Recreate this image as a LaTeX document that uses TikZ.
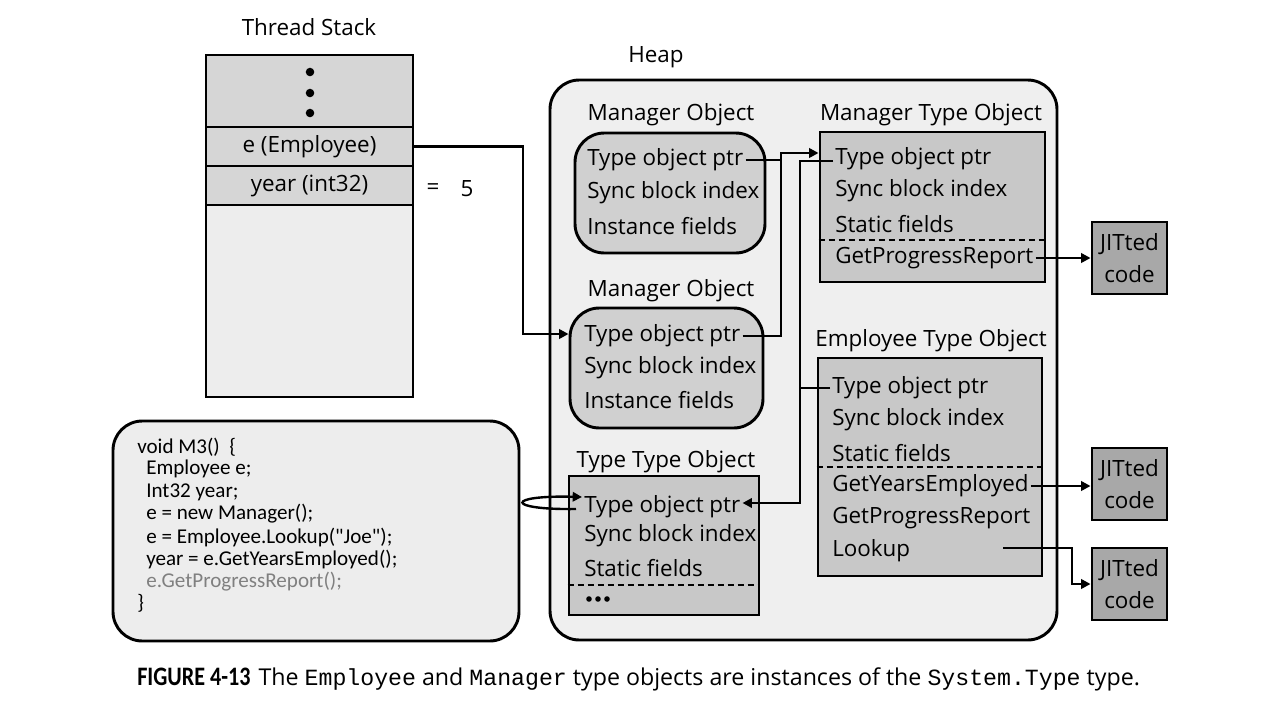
\documentclass[tikz,border=0pt]{standalone}
\usepackage{graphicx}
\usepackage{fontspec}
\setmainfont{Open Sans}
\newfontfamily\codefont{Carlito}
\newfontfamily\capfont{Carlito}
\newfontfamily\monofont{Liberation Mono}
\usetikzlibrary{arrows.meta}
\definecolor{stackgray}{HTML}{D6D6D6}
\definecolor{lightgray}{HTML}{EDEDED}
\definecolor{heapfill}{HTML}{EFEFEF}
\definecolor{objfill}{HTML}{D0D0D0}
\definecolor{typefill}{HTML}{C8C8C8}
\definecolor{jitfill}{HTML}{A8A8A8}
\definecolor{codegray}{HTML}{808080}
\tikzset{
  lw/.style={line width=2.2pt},
  boxshape/.style={draw, lw, inner sep=0pt},
  mainfont/.style={font=\fontsize{16.8}{19}\selectfont},
  fld/.style={anchor=west, inner sep=1.5pt, yshift=-1.5pt, mainfont},
  lbl/.style={inner sep=0pt, yshift=-1.5pt, mainfont},
  codeln/.style={anchor=west, inner sep=0pt, font=\codefont\fontsize{15.8}{18}\selectfont},
  arr/.style={lw, -{Triangle[length=7pt,width=7pt]}},
  conn/.style={lw},
  sepline/.style={lw, dash pattern=on 4.5pt off 3pt},
  jitbox/.style={boxshape, fill=jitfill, minimum width=56.25pt, minimum height=54pt, align=center, font=\fontsize{16.8}{24}\selectfont},
}
\begin{document}
\begin{tikzpicture}[x=0.75pt,y=-0.75pt]
\useasboundingbox (0,0) rectangle (1261,711);

% ---------- Thread stack ----------
\node[lbl] (tslbl) at (309,25) {Thread Stack};
\node[boxshape, fill=stackgray, minimum width=155.25pt, minimum height=54pt] (stop) at (309.5,91) {};
\node[boxshape, fill=stackgray, minimum width=155.25pt, minimum height=29.25pt, mainfont] (erow) at (309.5,146.5) {e (Employee)};
\node[boxshape, fill=stackgray, minimum width=155.25pt, minimum height=29.25pt, mainfont] (yrow) at (309.5,185.5) {year (int32)};
\node[boxshape, fill=lightgray, minimum width=155.25pt, minimum height=144pt] (slow) at (309.5,301) {};
\foreach \yy in {72,93,113} \fill (310,\yy) circle (3.2pt);
\node[lbl] (eq) at (433,187) {=};
\node[lbl] (five) at (467,187) {5};

% ---------- Heap ----------
\node[boxshape, fill=heapfill, rounded corners=22pt, minimum width=380.25pt, minimum height=420pt] (heap) at (803.5,360) {};
\node[lbl] (heaplbl) at (656,55) {Heap};

% Manager object 1
\node[lbl] (m1lbl) at (671,113) {Manager Object};
\node[boxshape, fill=objfill, rounded corners=22pt, minimum width=142.5pt, minimum height=90pt] (mgr1) at (670,193) {};
\node[fld] (m1a) at (585,158) {Type object ptr};
\node[fld] (m1b) at (585,191) {Sync block index};
\node[fld] (m1c) at (585,224) {Instance fields};

% Manager object 2
\node[lbl] (m2lbl) at (671,289) {Manager Object};
\node[boxshape, fill=objfill, rounded corners=22pt, minimum width=144.75pt, minimum height=90pt] (mgr2) at (666.5,368) {};
\node[fld] (m2a) at (582,334) {Type object ptr};
\node[fld] (m2b) at (582,366) {Sync block index};
\node[fld] (m2c) at (582,398) {Instance fields};

% Manager type object
\node[lbl] (mtolbl) at (931,113) {Manager Type Object};
\node[boxshape, fill=typefill, minimum width=168.75pt, minimum height=112.5pt] (mto) at (932.5,207) {};
\node[fld] (mtoa) at (833,157) {Type object ptr};
\node[fld] (mtob) at (833,189) {Sync block index};
\node[fld] (mtoc) at (833,222) {Static fields};
\draw[sepline] (mto.west |- 0,240) -- (mto.east |- 0,240);
\node[fld] (mtoe) at (833,256) {GetProgressReport};

% Employee type object
\node[lbl] (etolbl) at (931,339) {Employee Type Object};
\node[boxshape, fill=typefill, minimum width=168pt, minimum height=163.5pt] (eto) at (930,467) {};
\node[fld] (etoa) at (830,386) {Type object ptr};
\node[fld] (etob) at (830,418) {Sync block index};
\node[fld] (etoc) at (830,451) {Static fields};
\draw[sepline] (eto.west |- 0,467) -- (eto.east |- 0,467);
\node[fld] (etoe) at (830,484) {GetYearsEmployed};
\node[fld] (etof) at (830,516) {GetProgressReport};
\node[fld] (etog) at (830,549) {Lookup};

% Type type object
\node[lbl] (ttolbl) at (666,460) {Type Type Object};
\node[boxshape, fill=typefill, minimum width=142.5pt, minimum height=104.25pt] (tto) at (664,545.5) {};
\node[fld] (ttoa) at (582,505) {Type object ptr};
\node[fld] (ttob) at (582,534) {Sync block index};
\node[fld] (ttoc) at (582,566) {Static fields};
\draw[sepline] (tto.west |- 0,585) -- (tto.east |- 0,585);
\foreach \xx in {589,598,607} \fill (\xx,599) circle (2.1pt);

% JITted code boxes
\node[jitbox] (jit1) at (1129.5,258) {JITted\\code};
\node[jitbox] (jit2) at (1129.5,484) {JITted\\code};
\node[jitbox] (jit3) at (1129.5,584) {JITted\\code};

% ---------- Code box ----------
\node[boxshape, fill=lightgray, rounded corners=22pt, minimum width=304.5pt, minimum height=165pt] (code) at (316,531) {};
\node[codeln] (c1) at (137,447) {void M3()\ \ \{};
\node[codeln] (c2) at (146,469) {Employee e;};
\node[codeln] (c3) at (146,492) {Int32 year;};
\node[codeln] (c4) at (146,514) {e = new Manager();};
\node[codeln] (c5) at (146,537) {e = Employee.Lookup("Joe");};
\node[codeln] (c6) at (146,559) {year = e.GetYearsEmployed();};
\node[codeln, text=codegray] (c7) at (146,582) {e.GetProgressReport();};
\node[codeln] (c8) at (137,603) {\}};

% ---------- Connectors ----------
\coordinate (j1) at (523,334);
\draw[arr] (erow.east) -| (j1) -- (j1 -| mgr2.west);

\coordinate (k1) at (781,153);
\draw[arr] (m2a.east) -| (k1) -- (k1 -| mto.west);
\draw[conn] (m1a.east) -- (m1a.east -| k1);

\coordinate (v1) at (800,161);
\coordinate (v2) at (800,503);
\draw[arr] (mtoa.west |- v1) -- (v1) -- (v2) -- (v2 -| ttoa.east);
\draw[conn] (etoa.west) -- (etoa.west -| v1);

\coordinate (lp1) at (576,509);
\coordinate (lp2) at (582,497);
\draw[lw, line width=1.8pt, -{Triangle[length=7pt,width=7pt]}] (lp1) .. controls (505,510) and (505,495) .. (lp2);

\draw[arr] (mtoe.east) -- (mtoe.east -| jit1.west);
\draw[arr] (etoe.east) -- (etoe.east -| jit2.west);
\coordinate (lk) at (1003,548);
\coordinate (lk2) at (1072,548);
\draw[arr] (lk) -- (lk2) |- (jit3.west);

% ---------- Caption ----------
\node[anchor=base west, inner sep=0pt, font=\fontsize{17.4}{20}\selectfont] (cap) at (137,685)
  {\scalebox{0.83}[1]{\capfont\bfseries\fontsize{20}{22}\selectfont FIGURE 4-13}\hspace{6pt}The {\monofont Employee} and {\monofont Manager} type objects are instances of the {\monofont System.Type} type.};
\end{tikzpicture}
\end{document}
